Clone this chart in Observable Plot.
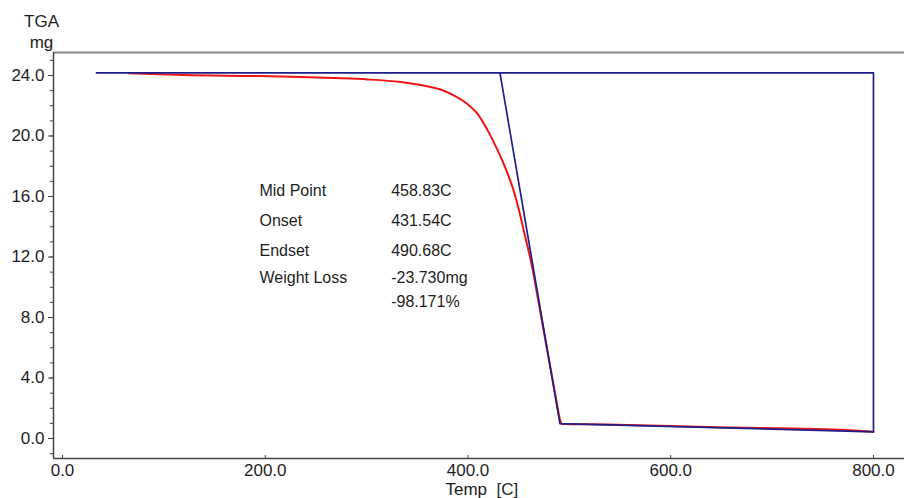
<!DOCTYPE html>
<html>
<head>
<meta charset="utf-8">
<script src="https://cdn.jsdelivr.net/npm/d3@7"></script>
<script src="https://cdn.jsdelivr.net/npm/@observablehq/plot@0.6"></script>
<style>
  html, body { margin: 0; padding: 0; background: #fff; }
  #chart svg { display: block; }
</style>
</head>
<body>
<div id="chart"></div>
<script>
// Measured TGA curve: sample mass (mg) against temperature (°C)
const tempC = [65.1, 119.4, 195.3, 234.8, 267.3, 300.9, 333.4, 353.1, 372.9, 386.0, 399.2, 409.1, 417.3, 425.5, 433.7, 440.3, 445.9, 451.1, 455.7, 459.0, 463.3, 469.3, 478.2, 487.2, 490.5, 492.7, 537, 600, 656, 721, 767, 800];
const massMg = [24.15, 24.03, 23.96, 23.90, 23.83, 23.74, 23.57, 23.37, 23.07, 22.68, 22.13, 21.49, 20.62, 19.58, 18.40, 17.30, 16.20, 14.88, 13.55, 12.62, 11.33, 9.13, 5.82, 2.52, 1.33, 0.96, 0.93, 0.83, 0.73, 0.66, 0.58, 0.45];

// Analysis construction: start/end baselines, end step and onset→endset tangent
const constructT = [33.5, 800, 800, 490.68, 431.54];
const constructM = [24.17, 24.17, 0.44, 0.99, 24.17];

// Analysis results
const resultLabels = ["Mid Point", "Onset", "Endset", "Weight Loss", ""];
const resultValues = ["458.83C", "431.54C", "490.68C", "-23.730mg", "-98.171%"];

// Axis ticks
const xTicks = [0, 200, 400, 600, 800];
const yTicks = [0, 4, 8, 12, 16, 20, 24];
const yMinorTicks = d3.range(-1, 26);

const xDomain = [-8.88, 830.6];
const yDomain = [-1.32, 25.52];

const curve = tempC.map((t, i) => ({t, m: massMg[i]}));
const construct = constructT.map((t, i) => ({t, m: constructM[i]}));

// Results table layout (label column, value column, row baselines)
const labelX = 194.3, valueX = 324.2;
const rowY = [16.05, 14.08, 12.10, 10.30, 8.72];
const results = resultLabels.map((label, i) => ({label, value: resultValues[i], y: rowY[i]}));

const font = "'Liberation Sans', Arial, sans-serif";
const ink = "#1e1e1e";

const chart = Plot.plot({
  width: 904,
  height: 498,
  marginLeft: 53,
  marginRight: 0,
  marginTop: 52,
  marginBottom: 40,
  style: {fontFamily: font, background: "#fff", color: ink},
  x: {domain: xDomain, label: null},
  y: {domain: yDomain, label: null},
  marks: [
    // frame lines
    Plot.ruleY([yDomain[1]], {stroke: "#8a8a8a", strokeWidth: 2}),
    Plot.ruleX([xDomain[0]], {stroke: "#444", strokeWidth: 1.5}),
    Plot.ruleY([yDomain[0]], {stroke: "#444", strokeWidth: 1.5}),
    // y axis: labelled major ticks and minor ticks
    Plot.axisY(yTicks, {tickSize: 5, tickPadding: 4, tickFormat: d3.format(".1f"), fontSize: 17, stroke: "#444", fill: ink, label: null}),
    Plot.axisY(yMinorTicks, {tickSize: 3, tickFormat: () => "", stroke: "#444", label: null}),
    // x axis: short inward ticks
    Plot.axisX(xTicks, {tickSize: -3, tickPadding: 8, tickFormat: d3.format(".1f"), fontSize: 17, stroke: "#444", fill: ink, label: null}),
    // measured curve
    Plot.line(curve, {x: "t", y: "m", stroke: "#f01414", strokeWidth: 2, curve: "monotone-x"}),
    // construction lines
    Plot.line(construct, {x: "t", y: "m", stroke: "#1f1f8c", strokeWidth: 1.7}),
    // results table
    Plot.text(results, {x: () => labelX, y: "y", text: "label", textAnchor: "start", lineAnchor: "bottom", fontSize: 16, fill: ink}),
    Plot.text(results, {x: () => valueX, y: "y", text: "value", textAnchor: "start", lineAnchor: "bottom", fontSize: 16, fill: ink}),
    // axis titles
    Plot.text(["TGA\nmg"], {frameAnchor: "top-left", dx: -12, dy: -5, textAnchor: "middle", lineAnchor: "bottom", lineHeight: 1.18, fontSize: 17, fill: ink}),
    Plot.text(["Temp\u00a0 [C]"], {frameAnchor: "bottom", x: () => 377.8, dy: 36, textAnchor: "start", lineAnchor: "bottom", fontSize: 17, fill: ink})
  ]
});

document.getElementById("chart").appendChild(chart);
</script>
</body>
</html>
